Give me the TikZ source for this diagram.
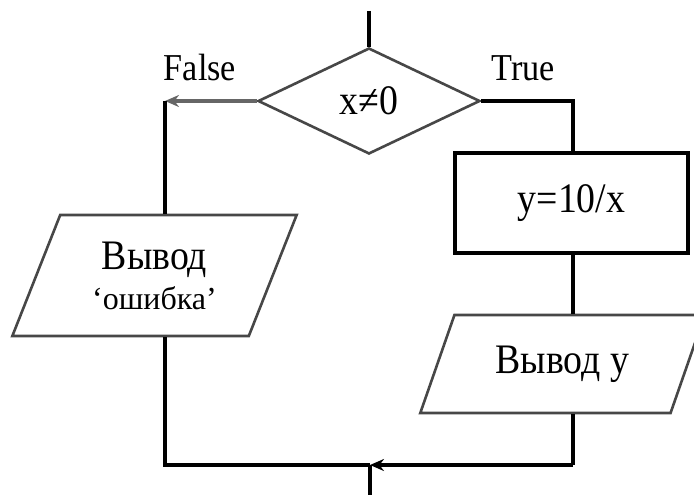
\documentclass[tikz,border=0pt]{standalone}
\usepackage{fontspec}
\setmainfont{Liberation Serif}
\usetikzlibrary{shapes.geometric,arrows.meta}

% horizontally condensed text, as set by the original drawing tool
\newcommand{\cond}[1]{\scalebox{0.9}[1]{#1}}

\begin{document}
\begin{tikzpicture}[x=1pt,y=-1pt,
  flow/.style={line width=3.2pt,black},
  flowgray/.style={line width=3.2pt,black!60},
  tip/.style={-{Stealth[length=14pt,width=12pt]}},
  decision/.style={diamond,draw=black!72,line width=2.6pt,inner sep=0pt,
    minimum width=222pt,minimum height=106pt,
    font=\fontsize{42}{46}\selectfont},
  process/.style={rectangle,draw,line width=3.4pt,inner sep=0pt,
    minimum width=233pt,minimum height=100pt,
    font=\fontsize{42}{46}\selectfont},
  io/.style={trapezium,trapezium stretches=true,draw=black!72,line width=2.6pt,
    inner sep=0pt,font=\fontsize{42}{46}\selectfont,align=center},
  branch/.style={font=\fontsize{38}{40}\selectfont}
]
\useasboundingbox (0,0) rectangle (694,495);
\clip (0,0) rectangle (694,495);

% shapes
\node[decision] (c) at (369,101) {\cond{x≠0}};
\node[process] (calc) at (571.5,203) {\cond{y=10/x}};
\node[io,trapezium left angle=65,trapezium right angle=115,
      minimum width=285pt,minimum height=121pt] (errout) at (154.5,275.5)
  {\cond{Вывод}\\[-6pt]{\fontsize{32}{34}\selectfont ‘ошибка’}};
\node[io,trapezium left angle=60,trapezium right angle=120,
      minimum width=285pt,minimum height=98pt] (yout) at (562.5,364)
  {\cond{Вывод y}};

% branch labels
\node[branch] (lf) at (200,68) {\cond{False}};
\node[branch] (lt) at (523,68) {\cond{True}};

% routing points
\coordinate (in)   at (369,11);
\coordinate (fl)   at (165,101);
\coordinate (tr)   at (573,101);
\coordinate (fb)   at (165,465);
\coordinate (tb)   at (573,465);
\coordinate (join) at (370,465);
\coordinate (out)  at (370,495);

% entry
\draw[flow] (in) -- (c.north);

% False branch
\draw[flowgray,tip] (c.west) -- (fl);
\draw[flow] (fl) -- (fl |- errout.north);
\draw[flow] (fl |- errout.south) -- (fb) -- (join);

% True branch
\draw[flow] (c.east) -- (tr) -- (tr |- calc.north);
\draw[flow] (tr |- calc.south) -- (tr |- yout.north);
\draw[flow] (tr |- yout.south) -- (tb);
\draw[flow,tip] (tb) -- (join);

% exit
\draw[flow] (join) -- (out);
\end{tikzpicture}
\end{document}
